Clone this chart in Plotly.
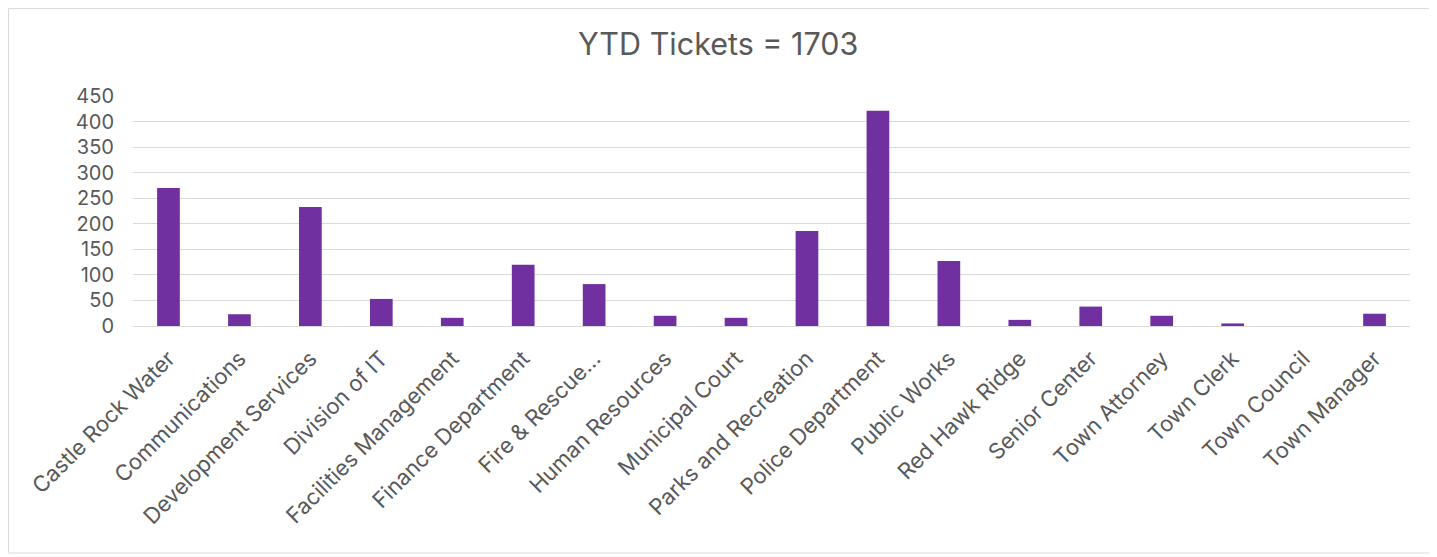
import plotly.graph_objects as go

departments = [
    "Castle Rock Water", "Communications", "Development Services", "Division of IT",
    "Facilities Management", "Finance Department", "Fire & Rescue...", "Human Resources",
    "Municipal Court", "Parks and Recreation", "Police Department", "Public Works",
    "Red Hawk Ridge", "Senior Center", "Town Attorney", "Town Clerk", "Town Council",
    "Town Manager",
]
tickets = [270, 23, 233, 53, 16, 120, 82, 20, 16, 186, 421, 127, 12, 38, 20, 5, 0, 24]
y_ticks = [0, 50, 100, 150, 200, 250, 300, 350, 400, 450]

font_family = "Inter, Open Sans, sans-serif"
gray = "#595959"

fig = go.Figure()
fig.add_trace(go.Bar(
    x=departments, y=tickets,
    marker=dict(color="#7030A0", line=dict(width=0)),
))

# the page body adds an 8px offset, so the figure is shrunk/shifted to compensate
fig.update_layout(
    width=1429, height=549,
    margin=dict(l=125, r=27, t=88, b=231),
    paper_bgcolor="white", plot_bgcolor="white",
    bargap=0.68,
    showlegend=False,
    title=dict(text="YTD Tickets = 1703", x=0.497, xref="container", xanchor="center",
               y=0.933, yanchor="middle",
               font=dict(family=font_family, size=30.5, color=gray)),
    font=dict(family=font_family, color=gray),
)
fig.update_xaxes(
    tickangle=-45, tickfont=dict(size=22, color=gray),
    showline=True, linecolor="#d9d9d9", linewidth=1, ticks="",
    ticklabelstandoff=10,
)
fig.update_yaxes(
    range=[0, 450], tickvals=y_ticks, tickfont=dict(size=20, color=gray),
    showgrid=True, gridcolor="#d9d9d9", gridwidth=1, zeroline=False,
    ticklabelstandoff=18,
)
# outer chart border
fig.add_shape(type="rect", xref="paper", yref="paper",
              x0=-0.0975, x1=1.0172, y0=-0.987, y1=1.38,
              line=dict(color="#d9d9d9", width=1), layer="below")

fig.write_html("out.html")
